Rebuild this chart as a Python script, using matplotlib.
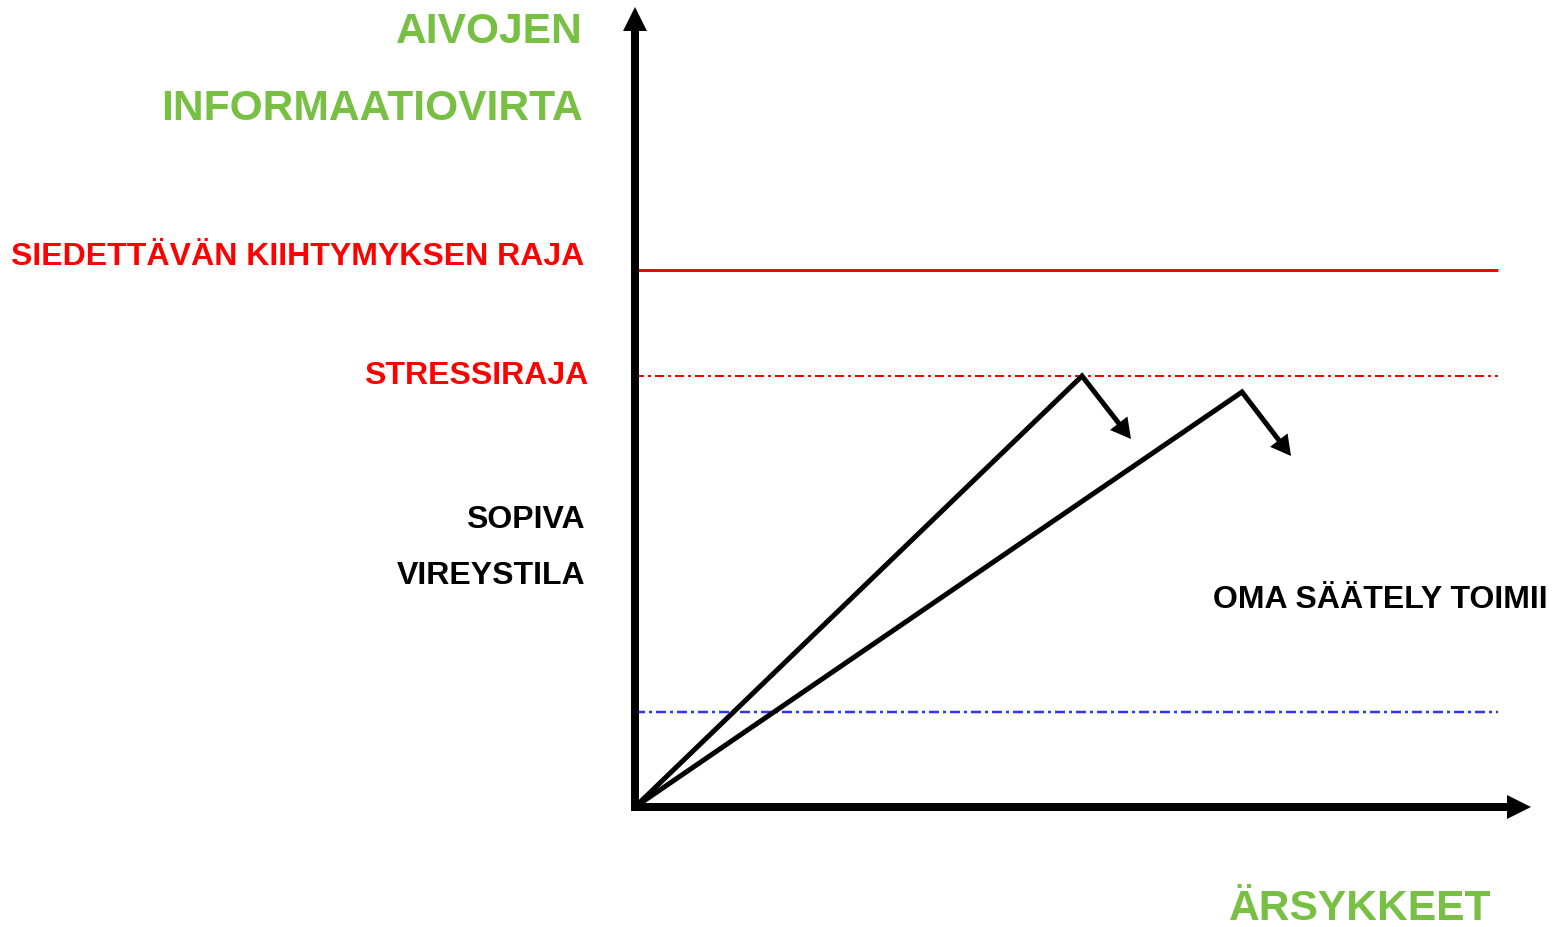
import matplotlib
matplotlib.use("Agg")
import matplotlib.pyplot as plt
import numpy as np

# ---- data (units: origin of the diagram at 0,0) ----
tolerance_level = 537
stress_level = 431
optimal_level = 95
line_end_x = 863
axis_x_end = 896
axis_y_end = 800

path1_x = [0, 447, 496]
path1_y = [0, 431, 368]
path2_x = [0, 607, 656]
path2_y = [0, 415, 351]

y_title = ["AIVOJEN", "INFORMAATIOVIRTA"]
level_labels = ["SIEDETTÄVÄN KIIHTYMYKSEN RAJA", "STRESSIRAJA"]
optimal_label = ["SOPIVA", "VIREYSTILA"]
x_title = "ÄRSYKKEET"
note = "OMA SÄÄTELY TOIMII"

# ---- drawing ----
plt.rcParams['font.family'] = ['Liberation Sans', 'DejaVu Sans']
plt.rcParams['lines.scale_dashes'] = False
GREEN = '#77C043'

fig = plt.figure(figsize=(15.54, 9.27), dpi=100)
ax = fig.add_axes([0, 0, 1, 1])
ax.set_xlim(-635, 919)
ax.set_ylim(-120, 807)
ax.axis('off')

px = 72 / 100.0  # points per pixel


def head(tip, tail, length, half_width):
    ax.annotate('', xy=tip, xytext=tail,
                arrowprops=dict(arrowstyle='-|>,head_length=%f,head_width=%f'
                                % (length * px, half_width * px),
                                lw=0, color='black', shrinkA=0, shrinkB=0,
                                mutation_scale=1))


# horizontal reference lines
ax.plot([0, line_end_x], [tolerance_level, tolerance_level], color='#FF0000', lw=3 * px,
        solid_capstyle='butt')
ax.plot([0, line_end_x], [stress_level, stress_level], color='#FF0000', lw=2 * px,
        linestyle=(0, (9 * px, 4 * px, 3 * px, 4 * px)))
ax.plot([0, line_end_x], [optimal_level, optimal_level], color='#3333FF', lw=2.5 * px,
        linestyle=(0, (10 * px, 4 * px, 3 * px, 4 * px)))

# axes with arrows
ax.plot([-4, axis_x_end - 20], [0, 0], color='black', lw=8 * px, solid_capstyle='butt')
head((axis_x_end, 0), (0, 0), 24, 12)
ax.plot([0, 0], [-4, axis_y_end - 20], color='black', lw=8 * px, solid_capstyle='butt')
head((0, axis_y_end), (0, 0), 24, 12)

# paths
for xs, ys in [(path1_x, path1_y), (path2_x, path2_y)]:
    tip = np.array([xs[2], ys[2]], float)
    peak = np.array([xs[1], ys[1]], float)
    d = tip - peak
    stop = tip - d / np.linalg.norm(d) * 13
    ax.plot([xs[0], xs[1], stop[0]], [ys[0], ys[1], stop[1]], color='black',
            lw=5 * px, solid_joinstyle='miter', solid_capstyle='butt')
    head((xs[2], ys[2]), (xs[1], ys[1]), 20, 11)

# texts
ax.text(-52, 764, y_title[0], color=GREEN, fontsize=30.6, fontweight='bold',
        ha='right', va='baseline')
ax.text(-52, 687, y_title[1], color=GREEN, fontsize=30.6, fontweight='bold',
        ha='right', va='baseline')
ax.text(-51, 542, level_labels[0], color='#FF0000', fontsize=23, fontweight='bold',
        ha='right', va='baseline')
ax.text(-47, 423, level_labels[1], color='#FF0000', fontsize=23, fontweight='bold',
        ha='right', va='baseline')
ax.text(-50, 279, optimal_label[0], color='black', fontsize=23, fontweight='bold',
        ha='right', va='baseline')
ax.text(-50, 223, optimal_label[1], color='black', fontsize=23, fontweight='bold',
        ha='right', va='baseline')
ax.text(913, 199, note, color='black', fontsize=23, fontweight='bold',
        ha='right', va='baseline')
ax.text(856, -113, x_title, color=GREEN, fontsize=30.6, fontweight='bold',
        ha='right', va='baseline')

fig.savefig('out.png', dpi=100)
